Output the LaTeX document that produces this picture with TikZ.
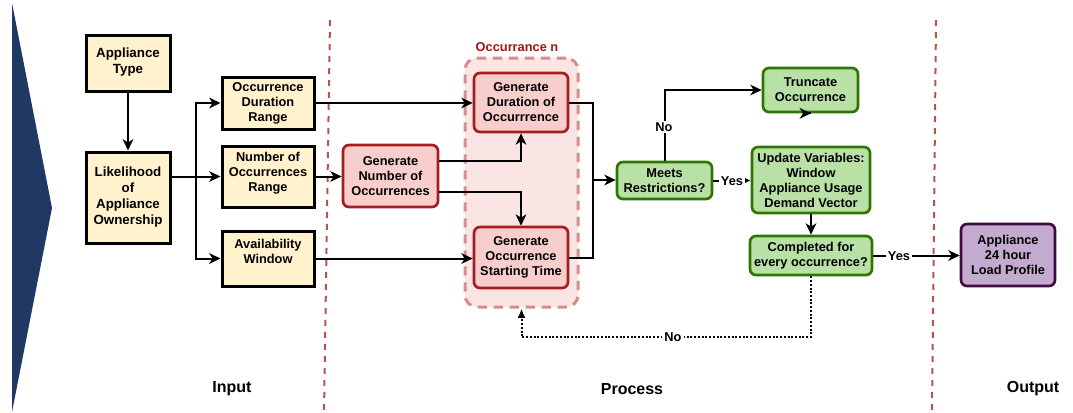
\documentclass[tikz,border=0pt]{standalone}
\usepackage{fontspec}
\setmainfont{Liberation Sans}
\usetikzlibrary{arrows.meta}
\definecolor{navy}{HTML}{1F3864}
\definecolor{yfill}{HTML}{FFF2CC}
\definecolor{rfill}{HTML}{F8CECC}
\definecolor{rline}{HTML}{A51D1D}
\definecolor{gfill}{HTML}{B9E0A5}
\definecolor{gline}{HTML}{2D7600}
\definecolor{pfill}{HTML}{C3ABD0}
\definecolor{pline}{HTML}{420A42}
\definecolor{sep}{HTML}{B85450}
\definecolor{contfill}{HTML}{FBE4E4}
\definecolor{contline}{HTML}{D88C8C}
\definecolor{contlbl}{HTML}{A31515}
\begin{document}
\begin{tikzpicture}[x=0.75pt,y=-0.75pt,
  font=\bfseries\fontsize{9.6}{11.25}\selectfont,
  sz/.style 2 args={minimum width=#1*0.75pt, minimum height=#2*0.75pt},
  base/.style={draw, line width=2pt, align=center, inner sep=1pt, text=black},
  ybox/.style={base, fill=yfill, draw=black, line width=2.25pt},
  rbox/.style={base, fill=rfill, draw=rline, rounded corners=4.5pt},
  gbox/.style={base, fill=gfill, draw=gline, rounded corners=4.5pt},
  pbox/.style={base, fill=pfill, draw=pline, rounded corners=4.5pt},
  conn/.style={line width=1.5pt, -{Stealth[length=8.5pt,width=8pt,inset=2.5pt]}},
  lbl/.style={fill=white, inner sep=1.5pt},
  sepline/.style={draw=sep, line width=1.5pt, dash pattern=on 4.5pt off 4.5pt},
  big/.style={font=\bfseries\fontsize{12}{14}\selectfont}
]
\useasboundingbox (0,0) rectangle (1073,412);
% left chevron
\fill[navy] (12,3) -- (52,208) -- (12,412) -- cycle;
% separators
\draw[sepline] (330,20) -- (324,412);
\draw[sepline] (936,20) -- (932,412);
% section labels
\node[big] (lin) at (232,389) {Input};
\node[big] (lpr) at (632,389) {Process};
\node[big] (lout) at (1033,389) {Output};
% container
\node[draw=contline, fill=contfill, line width=2.25pt, dash pattern=on 7pt off 5pt,
  rounded corners=9pt, sz={113}{249}] (cont) at (521.5,182.5) {};
\node[text=contlbl] (contl) at (517,47) {Occurrance n};
% input boxes
\node[ybox, sz={84}{56}, font=\bfseries\fontsize{10}{11.7}\selectfont] (at) at (128,63) {\raisebox{4pt}{\shortstack{Appliance\\Type}}};
\node[ybox, sz={84}{91}, font=\bfseries\fontsize{10}{12}\selectfont] (lk) at (128,197.5) {Likelihood\\of\\Appliance\\Ownership};
\node[ybox, sz={92}{52}] (odr) at (268,103) {Occurrence\\Duration\\Range};
\node[ybox, sz={92}{61}] (nor) at (268,176.5) {Number of\\Occurrences\\Range\\[-4pt]\mbox{}};
\node[ybox, sz={92}{55}] (aw) at (268,258.5) {Availability\\Window\\\mbox{}};
% process boxes
\node[rbox, sz={95}{62}] (gno) at (390.5,176) {Generate\\Number of\\Occurrences};
\node[rbox, sz={94}{59}] (gdo) at (521,102.5) {Generate\\Duration of\\Occurrrence};
\node[rbox, sz={94}{61}] (gst) at (521,257.5) {Generate\\Occurrence\\Starting Time};
\node[gbox, sz={95}{37}] (mr) at (664.5,180.5) {Meets\\Restrictions?};
\node[gbox, sz={95}{44}] (to) at (810.5,90) {Truncate\\Occurrence};
\node[gbox, sz={118}{66}] (uv) at (811,180) {Update Variables:\\Window\\Appliance Usage\\Demand Vector};
\node[gbox, sz={122}{39}] (ce) at (811,255.5) {Completed for\\every occurrence?};
\node[pbox, sz={94}{62}] (out) at (1008,255) {Appliance\\24 hour\\Load Profile};
% input connectors
\draw[conn] (at.south) -- (lk.north);
\coordinate (br) at (196,176);
\draw[conn] (lk.east |- nor.west) -- (nor.west);
\draw[conn] (br) |- (odr.west);
\draw[conn] (br) |- (aw.west);
% to process
\draw[conn] (odr.east) -- (odr.east -| gdo.west);
\draw[conn] (aw.east) -- (aw.east -| gst.west);
\draw[conn] (nor.east) -- (nor.east -| gno.west);
\draw[conn] ([yshift=11.25pt]gno.east) -| (gdo.south);
\draw[conn] ([yshift=-12pt]gno.east) -| (gst.north);
\coordinate (mj) at (593,180);
\draw[line width=1.5pt] (gdo.east) -| (mj);
\draw[line width=1.5pt] (gst.east) -| (mj);
\draw[conn] (mj) -- (mj -| mr.west);
% decision
\draw[conn] (mr.north) |- (to.west);
\node[lbl] (no1) at (664,127) {No};
\draw[line width=1.5pt, -{Latex[length=5pt,width=5pt]}] (mr.east) -- (mr.east -| uv.west);
\node[lbl] (yes1) at (732,181) {Yes};
\draw[conn] (to.south) -- (to.south -| uv.north);
\draw[conn] (uv.south) -- (uv.south |- ce.north);
\draw[conn] (ce.east) -- (ce.east -| out.west);
\node[lbl] (yes2) at (899,256) {Yes};
\coordinate (d1) at (811,337);
\draw[line width=1.5pt, dash pattern=on 1.5pt off 1.3pt, -{Latex[length=7pt,width=6pt]}]
  (ce.south) |- (cont.south |- d1) -- (cont.south);
\node[lbl] (no2) at (673,337) {No};
\end{tikzpicture}
\end{document}
